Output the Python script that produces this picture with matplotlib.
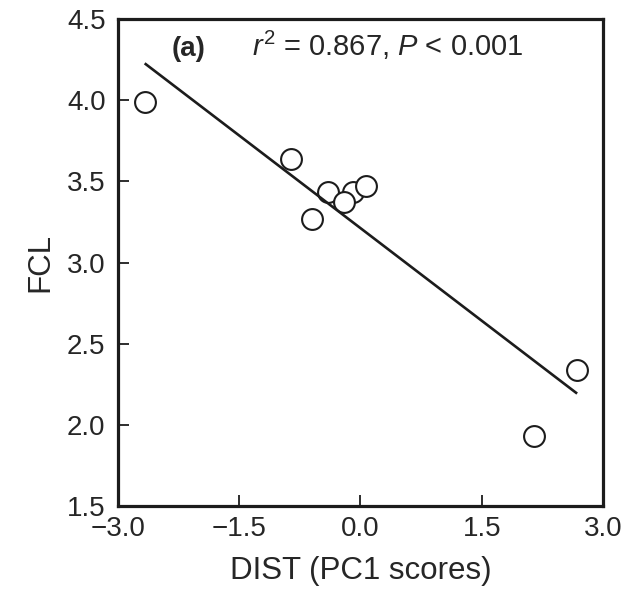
import numpy as np
import matplotlib
matplotlib.use("Agg")
import matplotlib.pyplot as plt

plt.rcParams['font.family'] = ['Liberation Sans', 'DejaVu Sans']
plt.rcParams['mathtext.fontset'] = 'custom'
plt.rcParams['mathtext.rm'] = 'Liberation Sans'
plt.rcParams['mathtext.it'] = 'Liberation Sans:italic'

# DIST (PC1 scores) vs FCL
dist = [-2.67, -0.86, -0.595, -0.40, -0.09, -0.21, 0.065, 2.15, 2.68]
fcl = [3.99, 3.64, 3.266, 3.434, 3.436, 3.372, 3.471, 1.933, 2.337]

xticks = [-3.0, -1.5, 0.0, 1.5, 3.0]
xticklabels = ['\u22123.0', '\u22121.5', '0.0', '1.5', '3.0']
yticks = [1.5, 2.0, 2.5, 3.0, 3.5, 4.0, 4.5]

ink = '#1c1c1c'
txt = '#262626'

fig = plt.figure(figsize=(6.27, 5.89), dpi=100)
ax = fig.add_axes([0.1882, 0.1409, 0.7735, 0.8268])

# least squares line over the data range
b, a = np.polyfit(dist, fcl, 1)
xl = np.array([min(dist), max(dist)])
ax.plot(xl, a + b * xl, color=ink, lw=1.9, zorder=4, solid_capstyle='butt')

ax.plot(dist, fcl, 'o', ms=15, mfc='white', mec=ink, mew=1.5, ls='none', zorder=3)

ax.set_xlim(-3, 3)
ax.set_ylim(1.5, 4.5)
ax.set_xticks(xticks)
ax.set_xticklabels(xticklabels)
ax.set_yticks(yticks)

for s in ax.spines.values():
    s.set_linewidth(2.3)
    s.set_color(ink)

ax.tick_params(axis='both', direction='in', length=8, width=1.3, colors=ink,
               labelsize=20, labelcolor=txt)
ax.tick_params(axis='x', pad=7)
ax.tick_params(axis='y', pad=9)

ax.set_xlabel('DIST (PC1 scores)', fontsize=22.5, color=txt, labelpad=10)
ax.set_ylabel('FCL', fontsize=22.5, color=txt, labelpad=8)

ax.text(0.111, 0.924, '(a)', transform=ax.transAxes, fontsize=20,
        fontweight='bold', color=txt, va='baseline')
ax.text(0.276, 0.924, r'$r^2$ = 0.867, $P$ < 0.001', transform=ax.transAxes,
        fontsize=21, color=txt, va='baseline')

fig.savefig('out.png', dpi=100)
